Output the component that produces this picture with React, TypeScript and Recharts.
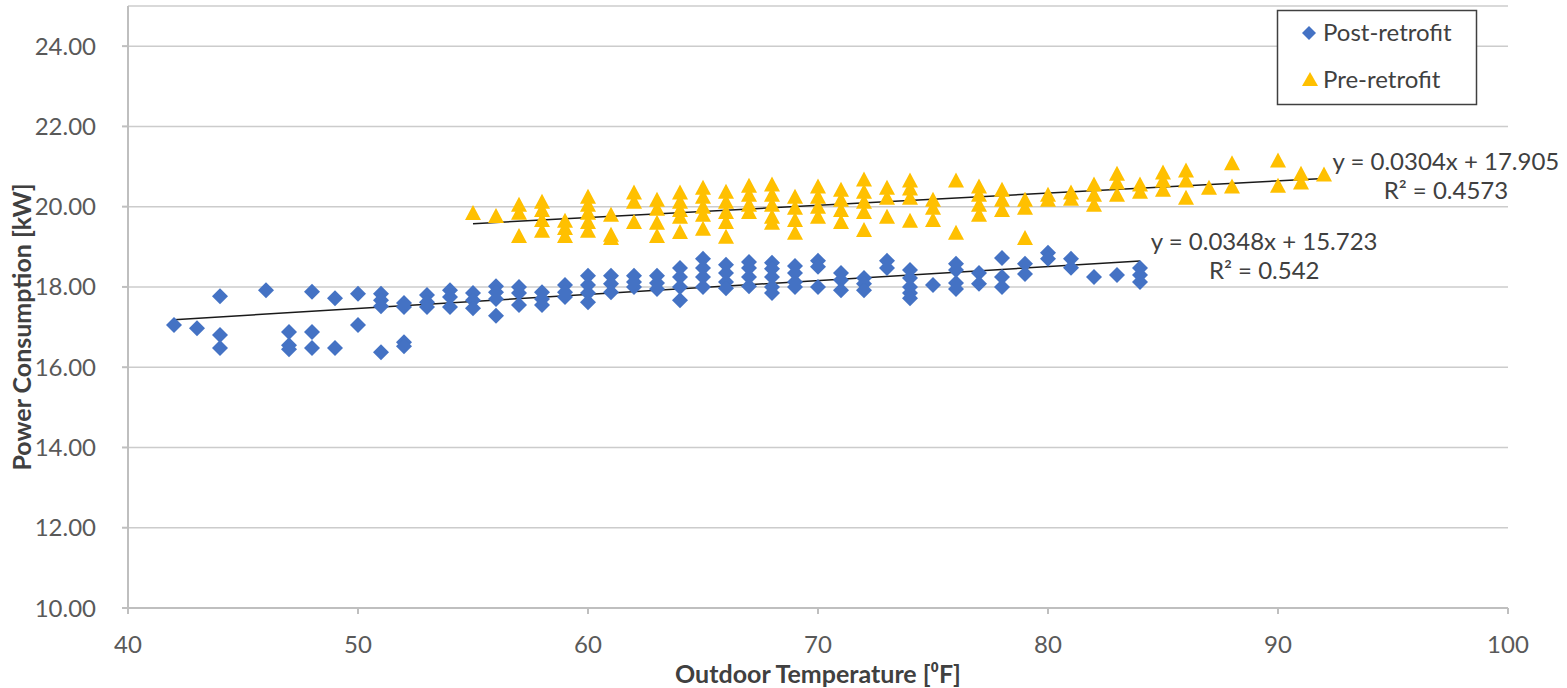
import {
  ScatterChart,
  Scatter,
  XAxis,
  YAxis,
  CartesianGrid,
  ReferenceLine,
  ReferenceDot,
} from 'recharts';

// Outdoor temperature columns and the readings at each one (kW)
const postTemps = [
  42, 43, 44, 46, 47, 48, 49, 50, 51, 52, 53, 54, 55, 56, 57, 58, 59, 60, 61, 62, 63,
  64, 65, 66, 67, 68, 69, 70, 71, 72, 73, 74, 75, 76, 77, 78, 79, 80, 81, 82, 83, 84,
];
const postReadings = [
  [17.05], [16.97], [17.77, 16.8, 16.48], [17.92], [16.88, 16.55, 16.45],
  [17.88, 16.88, 16.48], [17.72, 16.48], [17.83, 17.05], [17.83, 17.67, 17.52, 16.37],
  [17.6, 17.5, 16.62, 16.52], [17.8, 17.62, 17.5], [17.92, 17.75, 17.5], [17.85, 17.67, 17.47],
  [18.02, 17.87, 17.7, 17.28], [18.0, 17.85, 17.55], [17.87, 17.7, 17.55], [18.05, 17.87, 17.75],
  [18.28, 18.05, 17.85, 17.62], [18.28, 18.08, 17.87], [18.28, 18.12, 18.0], [18.28, 18.1, 17.95],
  [18.47, 18.25, 18.0, 17.67], [18.7, 18.47, 18.25, 18.0], [18.55, 18.35, 18.12, 17.97],
  [18.62, 18.47, 18.25, 18.02], [18.6, 18.45, 18.25, 18.0, 17.85], [18.52, 18.35, 18.12, 18.0],
  [18.65, 18.5, 18.0], [18.35, 18.17, 17.92], [18.22, 18.08, 17.92], [18.65, 18.47],
  [18.42, 18.22, 18.0, 17.85, 17.72], [18.05], [18.58, 18.42, 18.1, 17.95], [18.35, 18.08],
  [18.72, 18.25, 18.0], [18.58, 18.32], [18.85, 18.7], [18.7, 18.48], [18.25], [18.3],
  [18.47, 18.3, 18.12],
];

const preTemps = [
  55, 56, 57, 58, 59, 60, 61, 62, 63, 64, 65, 66, 67, 68, 69, 70, 71, 72, 73, 74, 75,
  76, 77, 78, 79, 80, 81, 82, 83, 84, 85, 86, 87, 88, 90, 91, 92,
];
const preReadings = [
  [19.84], [19.77], [20.05, 19.85, 19.27], [20.12, 19.92, 19.67, 19.4], [19.65, 19.47, 19.27],
  [20.25, 20.05, 19.85, 19.62, 19.4], [19.8, 19.3, 19.22], [20.35, 20.12, 19.62],
  [20.17, 19.95, 19.6, 19.27], [20.35, 20.12, 19.92, 19.75, 19.37],
  [20.47, 20.25, 20.0, 19.8, 19.45], [20.37, 20.12, 19.87, 19.62, 19.25],
  [20.52, 20.3, 20.05, 19.87], [20.55, 20.3, 20.05, 19.75, 19.6], [20.25, 19.97, 19.67, 19.35],
  [20.5, 20.25, 20.0, 19.75], [20.42, 20.17, 19.92, 19.62], [20.68, 20.37, 20.12, 19.87, 19.42],
  [20.47, 20.22, 19.75], [20.65, 20.45, 20.22, 19.65], [20.17, 19.97, 19.67], [20.65, 19.35],
  [20.5, 20.3, 20.05, 19.8], [20.42, 20.17, 19.92], [20.17, 19.97, 19.22], [20.3, 20.17],
  [20.35, 20.2], [20.55, 20.3, 20.05], [20.82, 20.6, 20.3], [20.55, 20.37],
  [20.85, 20.65, 20.42], [20.9, 20.65, 20.22], [20.47], [21.08, 20.5], [21.15, 20.52],
  [20.82, 20.6], [20.8],
];

// Linear trendline end points
const postTrendX = [42, 84];
const postTrendY = [17.185, 18.646];
const preTrendX = [55, 92];
const preTrendY = [19.577, 20.702];

const xTicks = [40, 50, 60, 70, 80, 90, 100];
const yTicks = [10, 12, 14, 16, 18, 20, 22, 24];

const BLUE = '#4472C4';
const GOLD = '#FFC000';
const FONT = 'Lato, "Open Sans", sans-serif';

function flatten(temps: number[], readings: number[][]) {
  return temps.flatMap((t, i) => readings[i].map((v) => ({ x: t, y: v })));
}

const postData = flatten(postTemps, postReadings);
const preData = flatten(preTemps, preReadings);

function Diamond(props: any) {
  const { cx, cy } = props;
  const r = 8;
  return <path d={`M${cx},${cy - r}L${cx + r},${cy}L${cx},${cy + r}L${cx - r},${cy}Z`} fill={BLUE} />;
}

function Triangle(props: any) {
  const { cx, cy } = props;
  return <path d={`M${cx},${cy - 8}L${cx + 8},${cy + 7}L${cx - 8},${cy + 7}Z`} fill={GOLD} />;
}

function eqText(lines: string[]) {
  return (p: any) => (
    <text x={p.cx} y={p.cy} textAnchor="middle" fontFamily={FONT} fontSize={24} fill="#404040">
      {lines.map((l, i) => (
        <tspan key={i} x={p.cx} dy={i === 0 ? 0 : 29}>{l}</tspan>
      ))}
    </text>
  );
}

export default function App() {
  return (
    <div style={{ position: 'absolute', left: 0, top: 0, width: 1567, height: 688, background: '#fff', fontFamily: FONT }}>
      <ScatterChart width={1567} height={688} margin={{ top: 6, right: 59, bottom: 0, left: 0 }}>
        <CartesianGrid horizontal vertical={false} stroke="#cccccc" strokeWidth={1.5} />
        <XAxis
          type="number"
          dataKey="x"
          domain={[40, 100]}
          ticks={xTicks}
          height={80}
          stroke="#bfbfbf"
          strokeWidth={2}
          tickSize={6}
          tickMargin={22}
          tick={{ fill: '#595959', fontSize: 24, fontFamily: FONT }}
          label={{
            content: (p: any) => (
              <text
                x={p.viewBox.x + p.viewBox.width / 2}
                y={683}
                textAnchor="middle"
                fontFamily={FONT}
                fontWeight="bold"
                fontSize={25}
                fill="#404040"
              >
                Outdoor Temperature [⁰F]
              </text>
            ),
          }}
        />
        <YAxis
          type="number"
          dataKey="y"
          domain={[10, 25]}
          ticks={yTicks}
          width={128}
          stroke="#bfbfbf"
          strokeWidth={2}
          tickSize={6}
          tickMargin={26}
          tickFormatter={(v: number) => v.toFixed(2)}
          tick={{ fill: '#595959', fontSize: 24, fontFamily: FONT }}
          label={{
            content: () => (
              <text
                x={0}
                y={0}
                transform="translate(31, 327) rotate(-90)"
                textAnchor="middle"
                fontFamily={FONT}
                fontWeight="bold"
                fontSize={25}
                fill="#404040"
              >
                Power Consumption [kW]
              </text>
            ),
          }}
        />
        <Scatter name="Pre-retrofit" data={preData} shape={Triangle} isAnimationActive={false} />
        <Scatter name="Post-retrofit" data={postData} shape={Diamond} isAnimationActive={false} />
        <ReferenceLine
          segment={[{ x: preTrendX[0], y: preTrendY[0] }, { x: preTrendX[1], y: preTrendY[1] }]}
          stroke="#1a1a1a"
          strokeWidth={1.5}
        />
        <ReferenceLine
          segment={[{ x: postTrendX[0], y: postTrendY[0] }, { x: postTrendX[1], y: postTrendY[1] }]}
          stroke="#1a1a1a"
          strokeWidth={1.5}
        />
        <ReferenceDot x={97.3} y={20.92} r={0} shape={eqText(['y = 0.0304x + 17.905', 'R² = 0.4573'])} />
        <ReferenceDot x={89.4} y={18.92} r={0} shape={eqText(['y = 0.0348x + 15.723', 'R² = 0.542'])} />
      </ScatterChart>

      {/* Legend box */}
      <svg style={{ position: 'absolute', left: 1276, top: 9 }} width={203} height={98}>
        <rect x={1.5} y={1.5} width={199} height={94} fill="#fff" stroke="#404040" strokeWidth={1.5} />
        <path d="M33,17L40,24L33,31L26,24Z" fill={BLUE} />
        <text x={47} y={32} fontFamily={FONT} fontSize={24} fill="#404040">Post-retrofit</text>
        <path d="M34,63L42,77L26,77Z" fill={GOLD} />
        <text x={47} y={79} fontFamily={FONT} fontSize={24} fill="#404040">Pre-retrofit</text>
      </svg>
    </div>
  );
}
